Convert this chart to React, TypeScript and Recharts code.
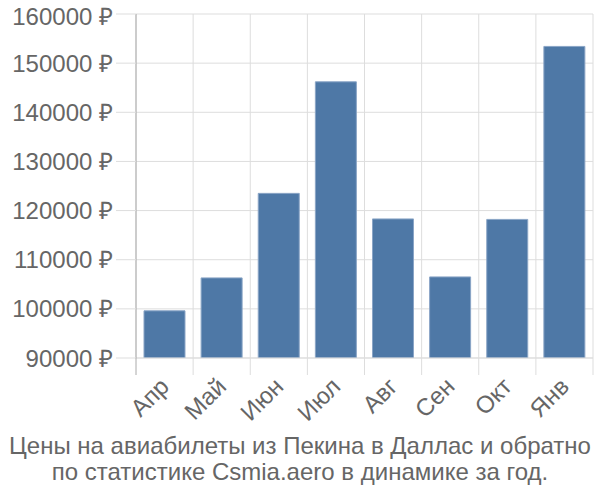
import { BarChart, Bar, XAxis, YAxis, CartesianGrid } from 'recharts'

const months = ['Апр', 'Май', 'Июн', 'Июл', 'Авг', 'Сен', 'Окт', 'Янв']
const prices = [99600, 106300, 123500, 146200, 118300, 106500, 118200, 153400]
const yTicks = [90000, 100000, 110000, 120000, 130000, 140000, 150000, 160000]
const titleLines = [
  'Цены на авиабилеты из Пекина в Даллас и обратно',
  'по статистике Csmia.aero в динамике за год.',
]

const data = months.map((m, i) => ({ month: m, price: prices[i] }))

const FONT = '"Liberation Sans", Arial, sans-serif'

function MonthTick(props: any) {
  const { x, y, payload, index } = props
  const half = payload.offset || 28.6
  const last = index === months.length - 1
  return (
    <g>
      <line x1={x - half} y1={y - 8} x2={x - half} y2={y + 9} stroke={index === 0 ? '#aaa' : '#ddd'} />
      {last && <line x1={x + half} y1={y - 8} x2={x + half} y2={y + 9} stroke="#ddd" />}
      <text
        x={x + 6}
        y={y + 22}
        textAnchor="end"
        fill="#666"
        fontSize={24}
        fontFamily={FONT}
        transform={`rotate(-45, ${x + 6}, ${y + 22})`}
      >
        {payload.value}
      </text>
    </g>
  )
}

export default function App() {
  return (
    <div style={{ position: 'absolute', left: 0, top: 0, width: 600, height: 500 }}>
      <BarChart
        width={600}
        height={500}
        data={data}
        margin={{ top: 14, right: 7, left: 0, bottom: 72 }}
        barCategoryGap="14%"
      >
        <CartesianGrid
          stroke="#ddd"
          verticalCoordinatesGenerator={({ offset }: any) =>
            months.map((_, i) => offset.left + (i * offset.width) / months.length).concat(offset.left + offset.width)
          }
        />
        <XAxis
          dataKey="month"
          height={70}
          axisLine={{ stroke: '#ddd' }}
          tickLine={false}
          tick={<MonthTick />}
          interval={0}
        />
        <YAxis
          width={136}
          domain={[90000, 160000]}
          ticks={yTicks}
          allowDataOverflow
          tickSize={20}
          tickMargin={3}
          tickLine={{ stroke: '#ddd' }}
          axisLine={{ stroke: '#aaa' }}
          tick={{ fill: '#666', fontSize: 24, fontFamily: FONT }}
          tickFormatter={(v) => `${v} ₽`}
        />
        <Bar dataKey="price" fill="#4e78a6" stroke="#8aa5c6" strokeWidth={1} isAnimationActive={false} />
        {titleLines.map((t, i) => (
          <text
            key={i}
            x={300}
            y={454 + i * 26}
            textAnchor="middle"
            fill="#666"
            fontSize={24}
            fontFamily={FONT}
          >
            {t}
          </text>
        ))}
      </BarChart>
    </div>
  )
}
